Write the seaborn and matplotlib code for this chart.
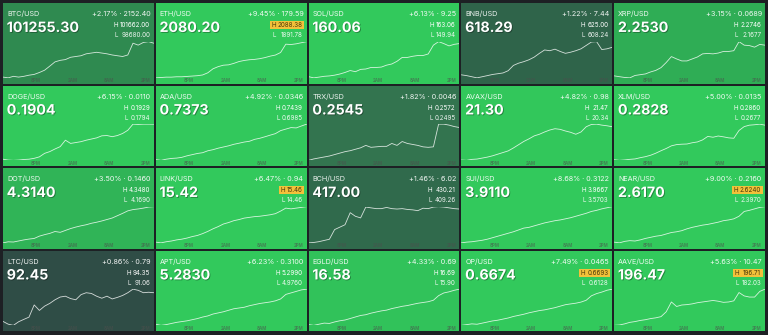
import numpy as np
import pandas as pd
import matplotlib
matplotlib.use("Agg")
import matplotlib.pyplot as plt
import seaborn as sns
from matplotlib import patheffects as pe
from matplotlib.colors import LinearSegmentedColormap
from matplotlib.patches import Rectangle

# ---------------- data ----------------
symbols = ["BTC", "ETH", "SOL", "BNB", "XRP",
           "DOGE", "ADA", "TRX", "AVAX", "XLM",
           "DOT", "LINK", "BCH", "SUI", "NEAR",
           "LTC", "APT", "EGLD", "OP", "AAVE"]
prices = [101255.30, 2080.20, 160.06, 618.29, 2.2530,
          0.1904, 0.7373, 0.2545, 21.30, 0.2828,
          4.3140, 15.42, 417.00, 3.9110, 2.6170,
          92.45, 5.2830, 16.58, 0.6674, 196.47]
change_pct = [2.17, 9.45, 6.13, 1.22, 3.15,
              6.15, 4.92, 1.82, 4.82, 5.00,
              3.50, 6.47, 1.46, 8.68, 9.00,
              0.86, 6.23, 4.33, 7.49, 5.63]
change_abs = [2152.40, 179.59, 9.25, 7.44, 0.0689,
              0.0110, 0.0346, 0.0046, 0.98, 0.0135,
              0.1460, 0.94, 6.02, 0.3122, 0.2160,
              0.79, 0.3100, 0.69, 0.0465, 10.47]
highs = [101662.00, 2088.38, 163.06, 625.00, 2.2746,
         0.1929, 0.7439, 0.2572, 21.47, 0.2860,
         4.3480, 15.46, 430.21, 3.9667, 2.6240,
         94.35, 5.2990, 16.69, 0.6693, 196.71]
lows = [98680.00, 1891.78, 149.94, 608.24, 2.1677,
        0.1794, 0.6985, 0.2495, 20.34, 0.2677,
        4.1690, 14.46, 409.26, 3.5703, 2.3970,
        91.06, 4.9760, 15.90, 0.6128, 182.03]
highlight_high = ["ETH", "LINK", "NEAR", "OP", "AAVE"]

time_labels = ["8PM", "2AM", "8AM", "2PM"]
time_label_hours = [5.45, 11.45, 17.45, 23.45]
window_hours = 24.8

btc = [98890, 98830, 98950, 98890, 98950, 99040, 99100, 99250, 99430, 99750,
       100080, 100200, 100260, 100440, 100500, 100560, 100710, 100770, 100830, 100770,
       100710, 100620, 100560, 100500, 100620, 101540, 101390, 101600, 101662, 101540]
eth = [1891.8, 1893.7, 1895.7, 1895.7, 1897.7, 1897.7, 1899.6, 1901.6, 1903.6, 1907.5,
       1919.3, 1941.0, 1952.7, 1960.6, 1962.5, 1970.4, 1980.3, 1986.2, 1990.1, 1992.1,
       1996.0, 2001.9, 2009.8, 2015.6, 2029.4, 2074.6, 2072.7, 2076.6, 2082.5, 2088.4]
sol = [150.60, 150.20, 150.46, 150.73, 150.86, 151.12, 151.51, 152.04, 152.70, 152.30,
       153.09, 153.22, 153.74, 153.74, 153.88, 154.53, 154.93, 155.84, 157.16, 157.16,
       157.55, 157.81, 157.81, 158.34, 161.35, 162.54, 161.88, 161.09, 161.62, 161.88]
bnb = [609.75, 609.41, 608.91, 608.41, 608.91, 609.41, 609.92, 610.25, 610.59, 611.59,
       613.94, 614.94, 615.61, 616.45, 617.63, 619.30, 620.81, 620.47, 621.15, 620.14,
       619.30, 619.80, 620.47, 621.31, 622.82, 624.33, 624.50, 620.98, 621.31, 621.98]
xrp = [2.1752, 2.1730, 2.1709, 2.1698, 2.1763, 2.1784, 2.1805, 2.1859, 2.1901, 2.1976,
       2.2115, 2.2276, 2.2212, 2.2158, 2.2158, 2.2212, 2.2265, 2.2350, 2.2361, 2.2350,
       2.2372, 2.2415, 2.2415, 2.2436, 2.2682, 2.2586, 2.2575, 2.2532, 2.2607, 2.2586]
doge = [0.1802, 0.1799, 0.1798, 0.1799, 0.1801, 0.1802, 0.1805, 0.1810, 0.1822, 0.1828,
        0.1837, 0.1845, 0.1867, 0.1856, 0.1859, 0.1862, 0.1867, 0.1871, 0.1875, 0.1882,
        0.1883, 0.1879, 0.1883, 0.1890, 0.1901, 0.1922, 0.1921, 0.1922, 0.1922, 0.1922]
ada = [0.6994, 0.6985, 0.6999, 0.7008, 0.7012, 0.7021, 0.7039, 0.7053, 0.7067, 0.7076,
       0.7099, 0.7112, 0.7130, 0.7144, 0.7158, 0.7176, 0.7189, 0.7203, 0.7212, 0.7235,
       0.7248, 0.7266, 0.7285, 0.7303, 0.7339, 0.7357, 0.7375, 0.7371, 0.7394, 0.7416]
trx = [0.2495, 0.2498, 0.2500, 0.2502, 0.2504, 0.2507, 0.2510, 0.2513, 0.2515, 0.2518,
       0.2521, 0.2526, 0.2522, 0.2523, 0.2524, 0.2524, 0.2530, 0.2526, 0.2534, 0.2530,
       0.2528, 0.2526, 0.2523, 0.2522, 0.2523, 0.2570, 0.2570, 0.2568, 0.2565, 0.2563]
avax = [20.37, 20.36, 20.39, 20.40, 20.43, 20.46, 20.50, 20.55, 20.60, 20.65,
        20.74, 20.84, 20.94, 21.02, 21.11, 21.16, 21.23, 21.29, 21.33, 21.31,
        21.26, 21.22, 21.16, 21.23, 21.39, 21.46, 21.47, 21.44, 21.42, 21.39]
xlm = [0.2682, 0.2679, 0.2681, 0.2684, 0.2686, 0.2692, 0.2697, 0.2704, 0.2714, 0.2726,
       0.2737, 0.2750, 0.2756, 0.2758, 0.2759, 0.2765, 0.2769, 0.2779, 0.2796, 0.2792,
       0.2798, 0.2794, 0.2789, 0.2787, 0.2825, 0.2844, 0.2851, 0.2853, 0.2856, 0.2851]
dot = [4.169, 4.174, 4.173, 4.178, 4.183, 4.187, 4.190, 4.201, 4.208, 4.214,
       4.223, 4.219, 4.228, 4.237, 4.244, 4.250, 4.255, 4.262, 4.267, 4.273,
       4.280, 4.287, 4.298, 4.309, 4.321, 4.327, 4.330, 4.334, 4.339, 4.341]
link = [14.50, 14.48, 14.51, 14.53, 14.56, 14.58, 14.61, 14.65, 14.68, 14.73,
        14.79, 14.86, 14.92, 14.99, 15.03, 15.08, 15.11, 15.15, 15.17, 15.19,
        15.20, 15.22, 15.24, 15.27, 15.34, 15.42, 15.40, 15.42, 15.44, 15.46]
bch = [409.68, 409.89, 410.31, 410.94, 411.56, 416.59, 417.85, 419.11, 425.39, 423.51,
       422.67, 428.32, 427.90, 427.49, 427.49, 428.12, 427.49, 427.28, 427.49, 427.07,
       426.86, 426.44, 427.70, 427.49, 428.32, 428.53, 428.32, 427.90, 427.49, 427.28]
sui = [3.5703, 3.5782, 3.5822, 3.5901, 3.5980, 3.6099, 3.6258, 3.6417, 3.6575, 3.6734,
       3.6892, 3.7090, 3.7289, 3.7368, 3.7526, 3.7685, 3.7844, 3.7962, 3.8081, 3.8161,
       3.8280, 3.8399, 3.8557, 3.8716, 3.8874, 3.9072, 3.9191, 3.9350, 3.9469, 3.9588]
near = [2.4015, 2.3970, 2.4061, 2.4106, 2.4084, 2.4152, 2.4242, 2.4311, 2.4379, 2.4424,
        2.4515, 2.4606, 2.4651, 2.4719, 2.4833, 2.4923, 2.4992, 2.5060, 2.5105, 2.5173,
        2.5241, 2.5332, 2.5377, 2.5446, 2.5604, 2.5900, 2.5968, 2.6058, 2.6149, 2.6195]
ltc = [91.52, 91.29, 91.19, 91.49, 91.69, 91.88, 92.90, 92.44, 92.80, 93.03,
       93.33, 93.56, 93.63, 93.43, 93.33, 93.76, 93.92, 93.86, 93.63, 93.46,
       93.63, 93.40, 93.53, 93.69, 93.92, 94.22, 94.12, 93.92, 93.96, 93.92]
apt = [4.9857, 4.9760, 4.9825, 4.9922, 5.0018, 5.0083, 5.0148, 5.0245, 5.0341, 5.0471,
       5.0568, 5.0729, 5.0826, 5.0923, 5.1052, 5.1181, 5.1246, 5.1310, 5.1440, 5.1537,
       5.1633, 5.1698, 5.1763, 5.1860, 5.2021, 5.2409, 5.2538, 5.2667, 5.2796, 5.2861]
egld = [15.916, 15.900, 15.924, 15.947, 15.940, 15.971, 15.995, 16.011, 16.042, 16.074,
        16.105, 16.121, 16.153, 16.177, 16.200, 16.216, 16.248, 16.271, 16.295, 16.311,
        16.335, 16.358, 16.374, 16.390, 16.421, 16.516, 16.572, 16.595, 16.627, 16.651]
op = [0.6128, 0.6139, 0.6151, 0.6145, 0.6162, 0.6179, 0.6196, 0.6207, 0.6224, 0.6241,
      0.6264, 0.6281, 0.6298, 0.6320, 0.6337, 0.6354, 0.6365, 0.6382, 0.6399, 0.6422,
      0.6444, 0.6456, 0.6467, 0.6484, 0.6512, 0.6580, 0.6614, 0.6637, 0.6665, 0.6682]
aave = [182.62, 182.76, 183.20, 183.79, 184.09, 184.53, 184.82, 185.26, 185.55, 186.01,
        187.90, 191.72, 189.96, 190.54, 190.69, 190.98, 191.43, 191.72, 192.01, 192.31,
        192.01, 191.57, 191.72, 192.16, 195.39, 194.07, 193.63, 193.63, 195.83, 196.71]

traces = {"BTC": btc, "ETH": eth, "SOL": sol, "BNB": bnb, "XRP": xrp,
          "DOGE": doge, "ADA": ada, "TRX": trx, "AVAX": avax, "XLM": xlm,
          "DOT": dot, "LINK": link, "BCH": bch, "SUI": sui, "NEAR": near,
          "LTC": ltc, "APT": apt, "EGLD": egld, "OP": op, "AAVE": aave}

# ---------------- style ----------------
sns.set_style("white")
plt.rcParams["font.family"] = ["Inter", "DejaVu Sans"]

BG = "#1d2024"
tile_cmap = LinearSegmentedColormap.from_list(
    "tiles",
    [(0.0, "#2b3b3e"), (0.172, "#2f4d46"), (0.244, "#2f644a"), (0.292, "#306a4c"),
     (0.364, "#33744f"), (0.434, "#2f8a50"), (0.63, "#2fad55"), (0.70, "#30b457"),
     (0.86, "#31c25a"), (1.0, "#32c95c")])

W_PX, H_PX = 768, 335
fig = plt.figure(figsize=(W_PX / 100, H_PX / 100), dpi=100, facecolor=BG)

left, top, gap = 3, 3, 2
tile_w = (765 - left - 4 * gap) / 5
tile_h = (331 - top - 3 * gap) / 4

rows = []
for s in symbols:
    tr = traces[s]
    hrs = np.linspace(0, window_hours, len(tr))
    for h, v in zip(hrs, tr):
        rows.append({"symbol": s, "hour": h, "price": v})
df = pd.DataFrame(rows)

white_shadow = [pe.SimplePatchShadow(offset=(0.6, -0.6), shadow_rgbFace="black", alpha=0.35), pe.Normal()]

fig.canvas.draw()
renderer = fig.canvas.get_renderer()

for i, sym in enumerate(symbols):
    r, c = divmod(i, 5)
    x0 = left + c * (tile_w + gap)
    y0 = top + r * (tile_h + gap)
    ax = fig.add_axes([x0 / W_PX, 1 - (y0 + tile_h) / H_PX, tile_w / W_PX, tile_h / H_PX])
    ax.set_facecolor(tile_cmap(min(change_pct[i], 5.0) / 5.0))
    ax.set_xticks([]); ax.set_yticks([])
    for sp in ax.spines.values():
        sp.set_visible(False)
    ax.set_xlim(0, 1); ax.set_ylim(0, 1)

    # sparkline
    lax = fig.add_axes([x0 / W_PX, 1 - (y0 + tile_h * 0.93) / H_PX,
                        tile_w / W_PX, tile_h * 0.45 / H_PX])
    sub = df[df.symbol == sym]
    sns.lineplot(data=sub, x="hour", y="price", ax=lax, color="white",
                 linewidth=0.6, alpha=0.8)
    lax.set_xlim(0, window_hours)
    lax.set_ylim(sub.price.min(), sub.price.max())
    lax.axis("off")

    dec = 4 if prices[i] < 10 else 2
    ax.text(0.027, 0.862, f"{sym}/USD", transform=ax.transAxes, fontsize=5.2,
            color="white", alpha=0.92, va="center", ha="left")
    ax.text(0.978, 0.862, f"+{change_pct[i]:.2f}% \u00b7 {change_abs[i]:.{dec}f}",
            transform=ax.transAxes, fontsize=5.2, color="white", alpha=0.92,
            va="center", ha="right")
    ax.text(0.025, 0.69, f"{prices[i]:.{dec}f}", transform=ax.transAxes,
            fontsize=10.2, fontweight="bold", color="white", va="center", ha="left",
            path_effects=white_shadow)

    hl = sym in highlight_high
    th = ax.text(0.975, 0.725, f"{highs[i]:.{dec}f}", transform=ax.transAxes,
                 fontsize=4.5, color="#4a3a08" if hl else "white",
                 va="center", ha="right", zorder=5)
    tl = ax.text(0.975, 0.60, f"{lows[i]:.{dec}f}", transform=ax.transAxes,
                 fontsize=4.5, color="white", alpha=0.9, va="center", ha="right", zorder=5)
    bh = th.get_window_extent(renderer)
    bl = tl.get_window_extent(renderer)
    xmin_px = min(bh.x0, bl.x0) - 2.0
    inv = ax.transAxes.inverted()
    lx = inv.transform((xmin_px, 0))[0]
    ax.text(lx, 0.725, "H", transform=ax.transAxes, fontsize=4.5,
            color="#4a3a08" if hl else "white", va="center", ha="right", zorder=5)
    ax.text(lx, 0.60, "L", transform=ax.transAxes, fontsize=4.5,
            color="white", alpha=0.9, va="center", ha="right", zorder=5)
    if hl:
        hx0 = inv.transform((xmin_px - 6.0, 0))[0]
        hx1 = inv.transform((bh.x1 + 1.5, 0))[0]
        ax.add_patch(Rectangle((hx0, 0.725 - 0.05), hx1 - hx0, 0.10,
                               transform=ax.transAxes, facecolor="#f3c13a",
                               edgecolor="none", zorder=4))

    for lab, hr in zip(time_labels, time_label_hours):
        ax.text(hr / window_hours, 0.035, lab, transform=ax.transAxes, fontsize=3.2,
                fontweight="bold", color="#4d4d4d", alpha=0.55, ha="center", va="center")

fig.savefig("out.png", dpi=100, facecolor=BG)
